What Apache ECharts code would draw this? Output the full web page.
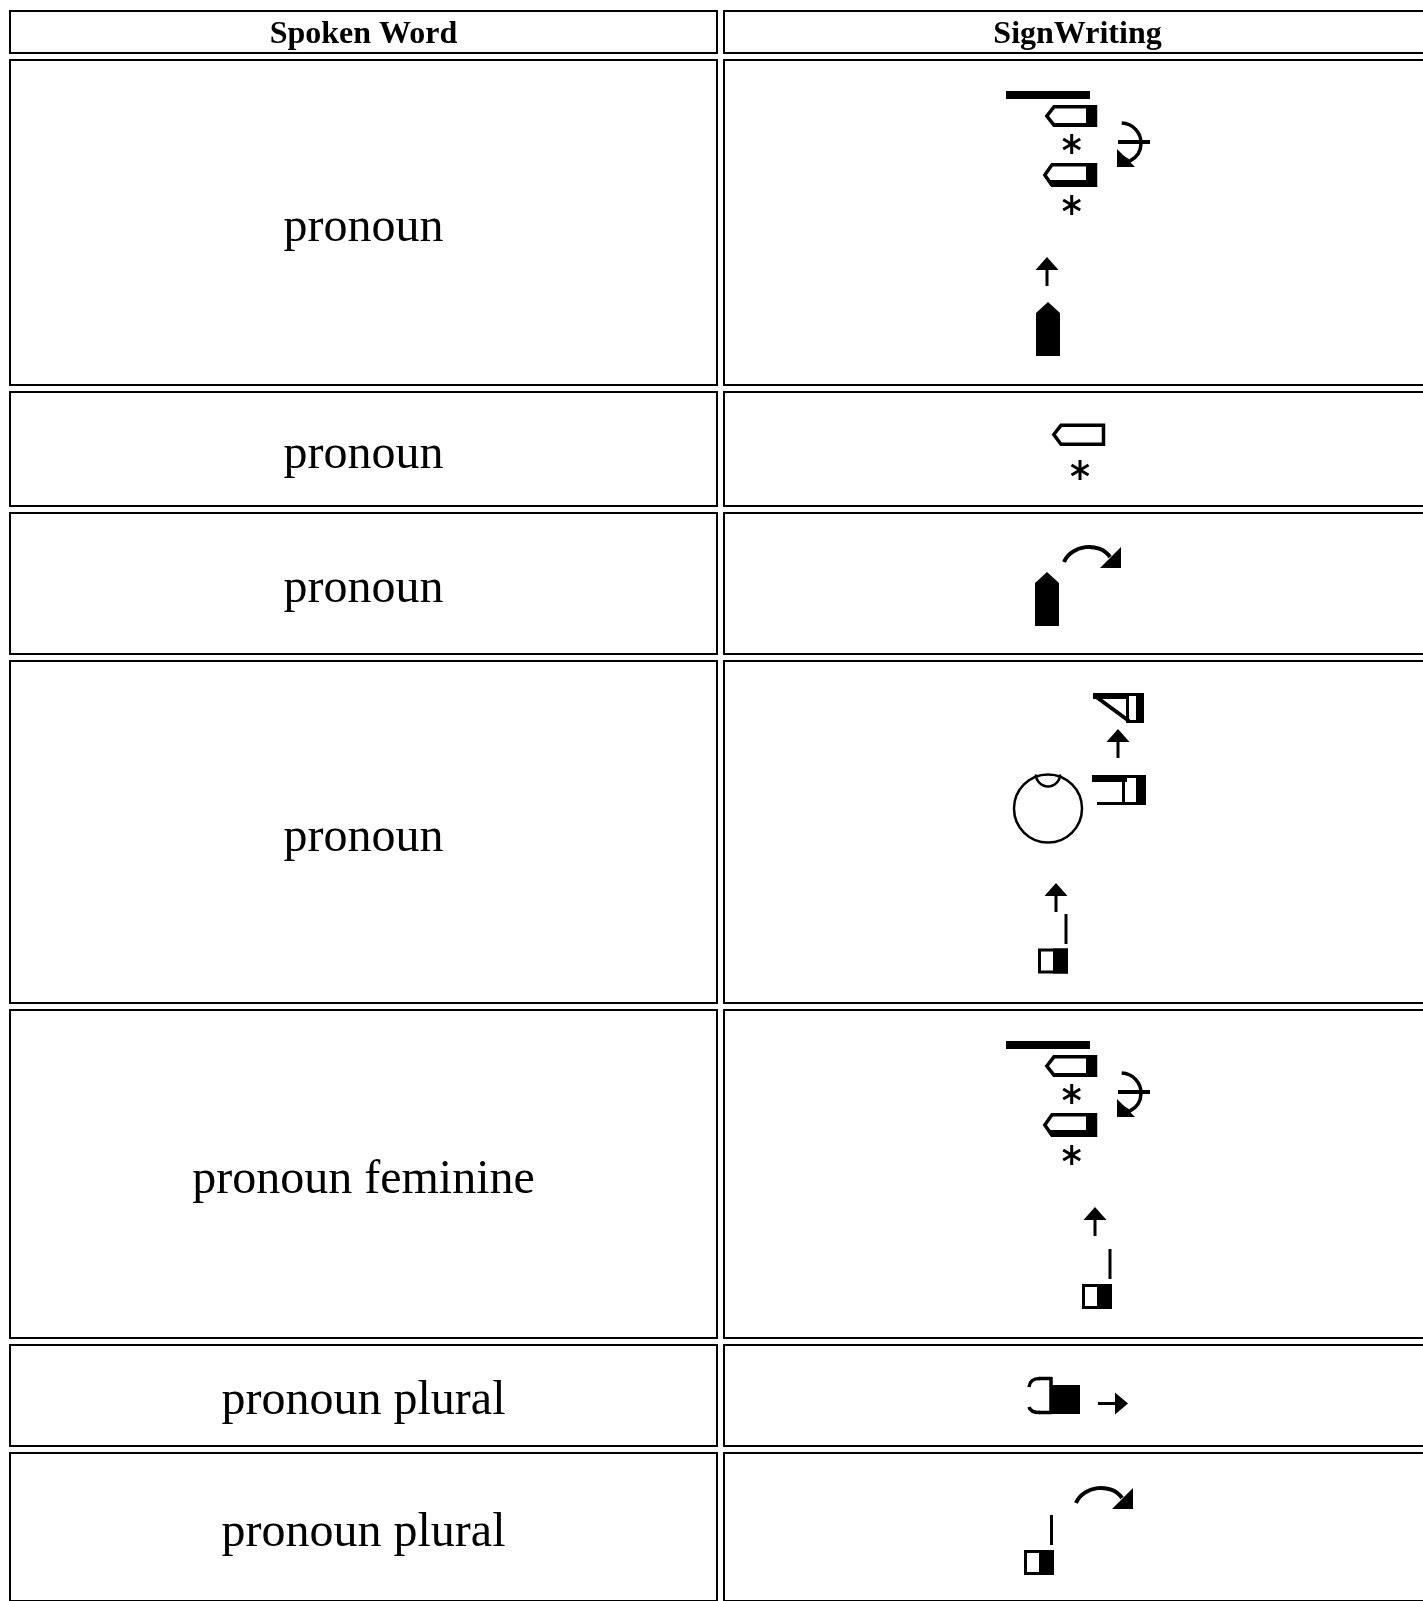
<!DOCTYPE html>
<html><head><meta charset="utf-8">
<script src="https://cdn.jsdelivr.net/npm/echarts@6/dist/echarts.min.js"></script>
<style>html,body{margin:0;padding:0;background:#fff}#c{width:1423px;height:1601px}</style>
</head><body><div id="c"></div>
<script>
// ---------- data ----------
const headers = ['Spoken Word', 'SignWriting'];
const words = ['pronoun', 'pronoun', 'pronoun', 'pronoun', 'pronoun feminine', 'pronoun plural', 'pronoun plural'];
// SignWriting spellings: [symbol, x offset from cell centre, y offset from cell top]
const sign1 = [['bar', -71.5, 32], ['handA', -32.5, 46], ['star', -5.8, 85], ['handB', -34.5, 104], ['star', -5.8, 146], ['whirl', 39.5, 63], ['arrowUp', -43.5, 198], ['handUp', -41.5, 243]];
const sign2 = [['handO', -25.5, 32.5], ['star', 2.5, 79]];
const sign3 = [['arcArrow', -14.5, 33], ['handUp', -42.5, 60]];
const sign4 = [['flag', 15.5, 33], ['arrowUp', 27.5, 69], ['bracket', 14.5, 115], ['head', -29.5, 148.5], ['arrowUp', -34.5, 223], ['stem', -13, 254], ['box', -39.5, 288.5]];
const sign5 = [['bar', -71.5, 32], ['handA', -32.5, 46], ['star', -5.8, 85], ['handB', -34.5, 104], ['star', -5.8, 146], ['whirl', 39.5, 63], ['arrowUp', 4.5, 198], ['stem', 31, 240], ['box', 4.5, 275]];
const sign6 = [['hook', -50.5, 33], ['arrowRight', 20.5, 48]];
const sign7 = [['arcArrow', -2.5, 34], ['stem', -27.5, 63], ['box', -53.5, 98]];
const signs = [sign1, sign2, sign3, sign4, sign5, sign6, sign7];

// ---------- layout ----------
const PAGE_W = 1423, PAGE_H = 1601;
const COL_X = [9, 723], COL_W = 709, GAP = 5, TOP = 10;
const ROW_H = [44, 327, 116, 143, 344, 330, 103, 150];
const HEAD_SHIFT = 3, WORD_SHIFT = 6;
const rowTop = [];
{ let y = TOP; ROW_H.forEach(h => { rowTop.push(y); y += h + GAP; }); }

const cells = [];
rowTop.forEach((t, r) => COL_X.forEach(x => cells.push([x, t, x + COL_W, t + ROW_H[r]])));

const texts = [];
headers.forEach((h, c) => texts.push({ t: h, x: COL_X[c] + COL_W / 2, y: rowTop[0] + ROW_H[0] / 2 + HEAD_SHIFT, head: true }));
words.forEach((w, i) => texts.push({ t: w, x: COL_X[0] + COL_W / 2, y: rowTop[i + 1] + ROW_H[i + 1] / 2 + WORD_SHIFT, head: false }));

const glyphs = [];
signs.forEach((s, i) => s.forEach(g => glyphs.push({ sym: g[0], x: COL_X[1] + COL_W / 2 + g[1], y: rowTop[i + 1] + g[2] })));

// ---------- glyph shapes ----------
const K = '#000';
function shapeOf(sym, o) {
  const X = x => o[0] + x, Y = y => o[1] + y;
  const rect = (x, y, w, h) => ({ type: 'rect', shape: { x: X(x), y: Y(y), width: w, height: h }, style: { fill: K } });
  const orect = (x, y, w, h, lw) => ({ type: 'rect', shape: { x: X(x), y: Y(y), width: w, height: h }, style: { fill: '#fff', stroke: K, lineWidth: lw } });
  const poly = (pts, fill, lw) => ({ type: 'polygon', shape: { points: pts.map(p => [X(p[0]), Y(p[1])]) }, style: fill ? { fill: K } : { fill: '#fff', stroke: K, lineWidth: lw, lineJoin: 'miter' } });
  const line = (x1, y1, x2, y2, lw) => ({ type: 'line', shape: { x1: X(x1), y1: Y(y1), x2: X(x2), y2: Y(y2) }, style: { stroke: K, lineWidth: lw || 3 } });
  const bez = (a, b, c, d, lw) => ({ type: 'bezierCurve', shape: { x1: X(a[0]), y1: Y(a[1]), cpx1: X(b[0]), cpy1: Y(b[1]), cpx2: X(c[0]), cpy2: Y(c[1]), x2: X(d[0]), y2: Y(d[1]) }, style: { stroke: K, fill: null, lineWidth: lw || 3 } });
  switch (sym) {
    case 'bar': return [rect(0, 0, 84, 8)];
    case 'handO': return [poly([[1.8, 11], [9, 1.8], [51.5, 1.8], [51.5, 20.7], [9, 20.7]], false, 3.5)];
    case 'handA': return [poly([[1.8, 11], [9, 1.8], [50.5, 1.8], [50.5, 20.2], [9, 20.2]], false, 3.5), rect(41, 0, 11, 22), rect(9, 18, 43, 4)];
    case 'handB': return [poly([[1.8, 12], [9, 1.8], [52.5, 1.8], [52.5, 22.2], [9, 22.2]], false, 3.5), rect(43, 0, 11, 24), poly([[6, 17], [54, 17], [54, 24], [9, 24], [4, 18]], true)];
    case 'star': return [line(0, -10, 0, 10, 3), line(-8.5, -5, 8.5, 5, 3), line(-8.5, 5, 8.5, -5, 3)];
    case 'whirl': return [
      { type: 'arc', shape: { cx: X(4), cy: Y(21), r: 20, startAngle: -88 * Math.PI / 180, endAngle: 62 * Math.PI / 180, clockwise: true }, style: { stroke: K, fill: null, lineWidth: 3.5 } },
      line(4, 34, 14, 40, 3),
      line(1, 20, 33, 20, 4), poly([[0, 27], [0, 45], [18, 45]], true)];
    case 'arrowUp': return [poly([[13, 0], [1.5, 13], [24.5, 13]], true), rect(11.5, 12, 3, 17)];
    case 'arrowRight': return [poly([[30, 11.5], [17, 0.5], [17, 22.5]], true), rect(0, 10, 18, 3)];
    case 'handUp': return [poly([[12, 0], [24, 11], [24, 54], [0, 54], [0, 11]], true)];
    case 'arcArrow': return [bez([1, 17], [8, 0], [36, -4], [47, 12], 4), poly([[58, 2], [58, 23], [37, 23]], true)];
    case 'flag': return [orect(34.5, 1.5, 15, 27, 3), rect(43, 0, 8, 30), rect(0, 0, 36, 6), line(2, 3, 36, 28, 4)];
    case 'bracket': return [orect(31.5, 1.5, 21, 27, 3), rect(44, 0, 10, 30), rect(0, 0, 35, 7), rect(5, 27, 30, 3)];
    case 'head': return [
      { type: 'circle', shape: { cx: X(0), cy: Y(0), r: 34 }, style: { stroke: K, fill: null, lineWidth: 2.5 } },
      { type: 'arc', shape: { cx: X(0), cy: Y(-34), r: 12, startAngle: 0, endAngle: Math.PI, clockwise: true }, style: { stroke: K, fill: null, lineWidth: 2.5 } }];
    case 'stem': return [rect(0, 0, 3, 30)];
    case 'box': return [orect(1.5, 1.5, 27, 22, 3), rect(15, 0, 15, 25)];
    case 'hook': return [
      bez([2, 10], [3, 3], [7, 1.5], [13, 1.5], 3.5), line(12, 1.5, 25, 1.5, 3.5), line(24, 0, 24, 37, 3.5),
      line(12, 35.5, 25, 35.5, 3.5), bez([2, 30], [3, 34], [6, 35.5], [13, 35.5], 3.5), rect(24, 8, 29, 29)];
  }
  return [];
}

const chart = echarts.init(document.getElementById('c'), null, { renderer: 'canvas' });
chart.setOption({
  backgroundColor: '#fff',
  animation: false,
  grid: { left: 0, right: 0, top: 0, bottom: 0 },
  xAxis: { type: 'value', min: 0, max: PAGE_W, show: false },
  yAxis: { type: 'value', min: 0, max: PAGE_H, inverse: true, show: false },
  series: [
    {
      type: 'custom', coordinateSystem: 'cartesian2d', silent: true,
      data: cells,
      renderItem: (p, api) => {
        const a = api.coord([api.value(0), api.value(1)]), b = api.coord([api.value(2), api.value(3)]);
        return { type: 'rect', shape: { x: a[0] + 1, y: a[1] + 1, width: b[0] - a[0] - 2, height: b[1] - a[1] - 2 }, style: { fill: '#fff', stroke: K, lineWidth: 2 } };
      }
    },
    {
      type: 'custom', coordinateSystem: 'cartesian2d', silent: true,
      data: texts.map(t => [t.x, t.y]),
      renderItem: (p, api) => {
        const t = texts[p.dataIndex];
        const c = api.coord([api.value(0), api.value(1)]);
        return { type: 'text', style: { text: t.t, x: c[0], y: c[1], align: 'center', verticalAlign: 'middle', fill: K,
          font: (t.head ? 'bold 32px' : '48px') + ' "Liberation Serif", "Times New Roman", serif' } };
      }
    },
    {
      type: 'custom', coordinateSystem: 'cartesian2d', silent: true,
      data: glyphs.map(g => [g.x, g.y]),
      renderItem: (p, api) => {
        const g = glyphs[p.dataIndex];
        const c = api.coord([api.value(0), api.value(1)]);
        return { type: 'group', children: shapeOf(g.sym, c) };
      }
    }
  ]
});
</script></body></html>
